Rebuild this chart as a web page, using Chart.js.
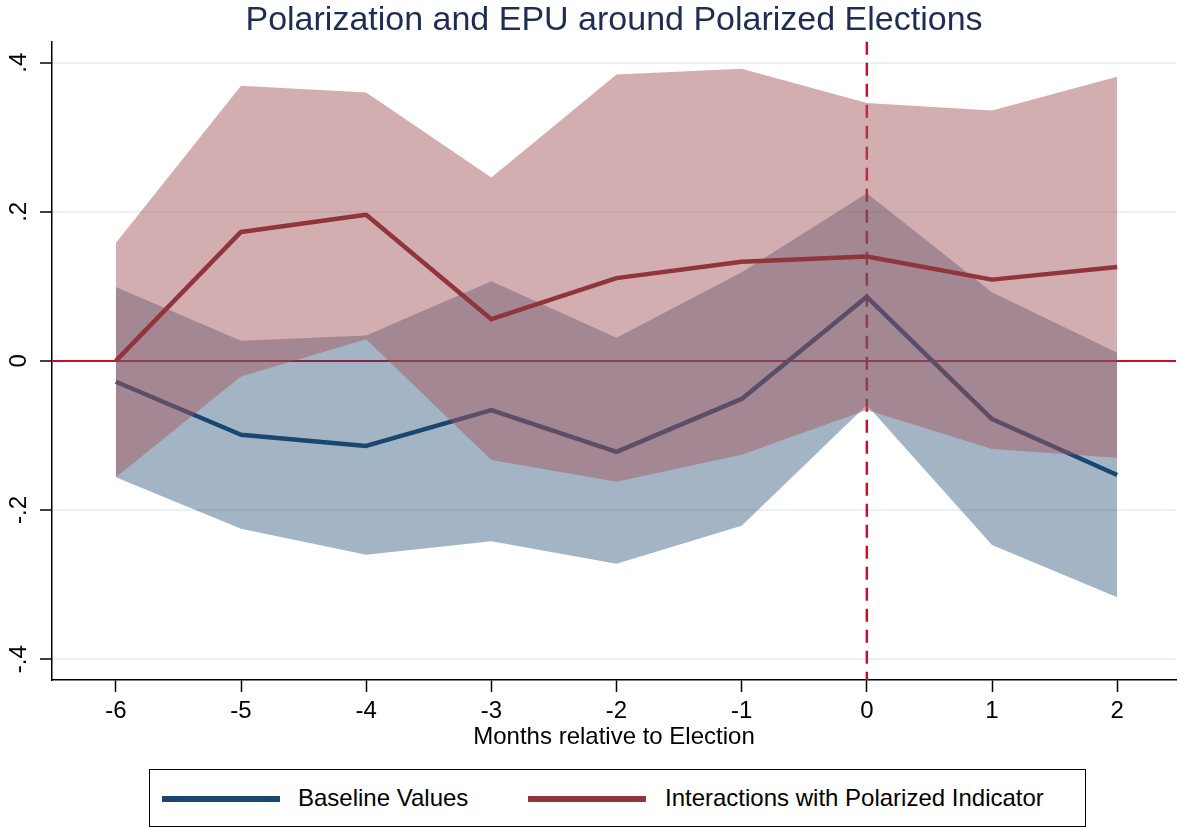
<!DOCTYPE html>
<html>
<head>
<meta charset="utf-8">
<script src="https://cdn.jsdelivr.net/npm/chart.js@4.4.1/dist/chart.umd.min.js"></script>
<style>
  body { margin: 0; background: #fff; font-family: "Liberation Sans", Arial, sans-serif; }
  #wrap { position: relative; width: 1178px; height: 827px; overflow: hidden; }
  #box { position: absolute; left: 0; top: 0; width: 1178px; height: 760px; }
  #legend { position: absolute; left: 149px; top: 769px; width: 937px; height: 58px; border: 1.5px solid #000; box-sizing: border-box; }
  .item { position: absolute; top: 0; height: 55px; line-height: 55px; font-size: 24px; color: #000; }
  .swatch { position: absolute; top: 26px; width: 118px; height: 6px; }
</style>
</head>
<body>
<div id="wrap">
  <div id="box"><canvas id="epu"></canvas></div>
  <div id="legend">
    <div class="swatch" style="left:12px;background:#1a476f"></div>
    <div class="item" style="left:148px">Baseline Values</div>
    <div class="swatch" style="left:378px;background:#90353b"></div>
    <div class="item" style="left:515px">Interactions with Polarized Indicator</div>
  </div>
</div>
<script>
const months = [-6, -5, -4, -3, -2, -1, 0, 1, 2]
const baseline = [-0.028, -0.099, -0.114, -0.066, -0.122, -0.051, 0.086, -0.078, -0.153]
const baseUpper = [0.099, 0.027, 0.034, 0.107, 0.031, 0.119, 0.225, 0.092, 0.011]
const baseLower = [-0.156, -0.225, -0.260, -0.242, -0.272, -0.221, -0.059, -0.247, -0.317]
const polar = [0.000, 0.173, 0.196, 0.056, 0.111, 0.133, 0.140, 0.109, 0.126]
const polarUpper = [0.158, 0.369, 0.360, 0.246, 0.384, 0.392, 0.346, 0.336, 0.381]
const polarLower = [-0.156, -0.021, 0.029, -0.133, -0.162, -0.126, -0.066, -0.118, -0.130]
const yTicks = [-0.4, -0.2, 0, 0.2, 0.4]
const yTickText = ['-.4', '-.2', '0', '.2', '.4']

const pts = arr => arr.map((v, i) => ({ x: months[i], y: v }))
const clear = 'rgba(0,0,0,0)'

// zero line + election month, drawn under everything
const refLines = {
  id: 'refLines',
  beforeDatasetsDraw(chart) {
    const { ctx, chartArea, scales } = chart
    const y0 = scales.y.getPixelForValue(0)
    const x0 = scales.x.getPixelForValue(0)
    ctx.save()
    ctx.strokeStyle = '#c8102e'
    ctx.lineWidth = 2
    ctx.beginPath()
    ctx.moveTo(chartArea.left, y0)
    ctx.lineTo(chartArea.right, y0)
    ctx.stroke()
    ctx.lineWidth = 2.5
    ctx.setLineDash([13, 8])
    ctx.beginPath()
    ctx.moveTo(x0, chartArea.top)
    ctx.lineTo(x0, chartArea.bottom)
    ctx.stroke()
    ctx.restore()
  }
}

new Chart(document.getElementById('epu'), {
  type: 'line',
  data: {
    datasets: [
      { label: 'Interactions with Polarized Indicator', data: pts(polar), borderColor: '#90353b', borderWidth: 4.5, pointRadius: 0, fill: false, order: 0 },
      { label: 'polar hi', data: pts(polarUpper), borderColor: clear, pointRadius: 0, fill: '+1', backgroundColor: 'rgba(163,86,92,0.48)', order: 1 },
      { label: 'polar lo', data: pts(polarLower), borderColor: clear, pointRadius: 0, fill: false, order: 1 },
      { label: 'Baseline Values', data: pts(baseline), borderColor: '#1a476f', borderWidth: 4.5, pointRadius: 0, fill: false, order: 2 },
      { label: 'base hi', data: pts(baseUpper), borderColor: clear, pointRadius: 0, fill: '+1', backgroundColor: 'rgba(26,71,111,0.4)', order: 3 },
      { label: 'base lo', data: pts(baseLower), borderColor: clear, pointRadius: 0, fill: false, order: 3 }
    ]
  },
  options: {
    responsive: true,
    maintainAspectRatio: false,
    animation: false,
    layout: { padding: { left: 0, right: 2, top: 0, bottom: 0 } },
    elements: { line: { tension: 0, borderJoinStyle: 'round' } },
    plugins: {
      legend: { display: false },
      tooltip: { enabled: false },
      title: {
        display: true,
        fullSize: false,
        text: 'Polarization and EPU around Polarized Elections',
        color: '#1e2d53',
        font: { family: 'Liberation Sans', size: 34, weight: 'normal' },
        padding: { top: 0, bottom: 1 }
      }
    },
    scales: {
      x: {
        type: 'linear',
        min: -6.51,
        max: 2.47,
        afterBuildTicks: s => { s.ticks = months.map(v => ({ value: v })) },
        afterFit: s => { s.height = 80 },
        ticks: { color: '#000', font: { family: 'Liberation Sans', size: 24 }, padding: 5, callback: v => String(v) },
        grid: { drawOnChartArea: false, tickLength: 12, tickColor: '#000', tickWidth: 1.5 },
        border: { color: '#000', width: 1.5 },
        title: { display: true, text: 'Months relative to Election', color: '#000', font: { family: 'Liberation Sans', size: 24 }, padding: { top: 8, bottom: 8 } }
      },
      y: {
        min: -0.428,
        max: 0.428,
        afterBuildTicks: s => { s.ticks = yTicks.map(v => ({ value: v })) },
        afterFit: s => { s.width = 52 },
        ticks: {
          color: '#000',
          font: { family: 'Liberation Sans', size: 24 },
          minRotation: 90,
          maxRotation: 90,
          crossAlign: 'center',
          padding: 7,
          callback: v => yTickText[yTicks.indexOf(v)]
        },
        grid: { color: '#e9f1f3', lineWidth: 2, tickLength: 12, tickColor: '#000', tickWidth: 1.5 },
        border: { color: '#000', width: 1.5 }
      }
    }
  },
  plugins: [refLines]
})
</script>
</body>
</html>
